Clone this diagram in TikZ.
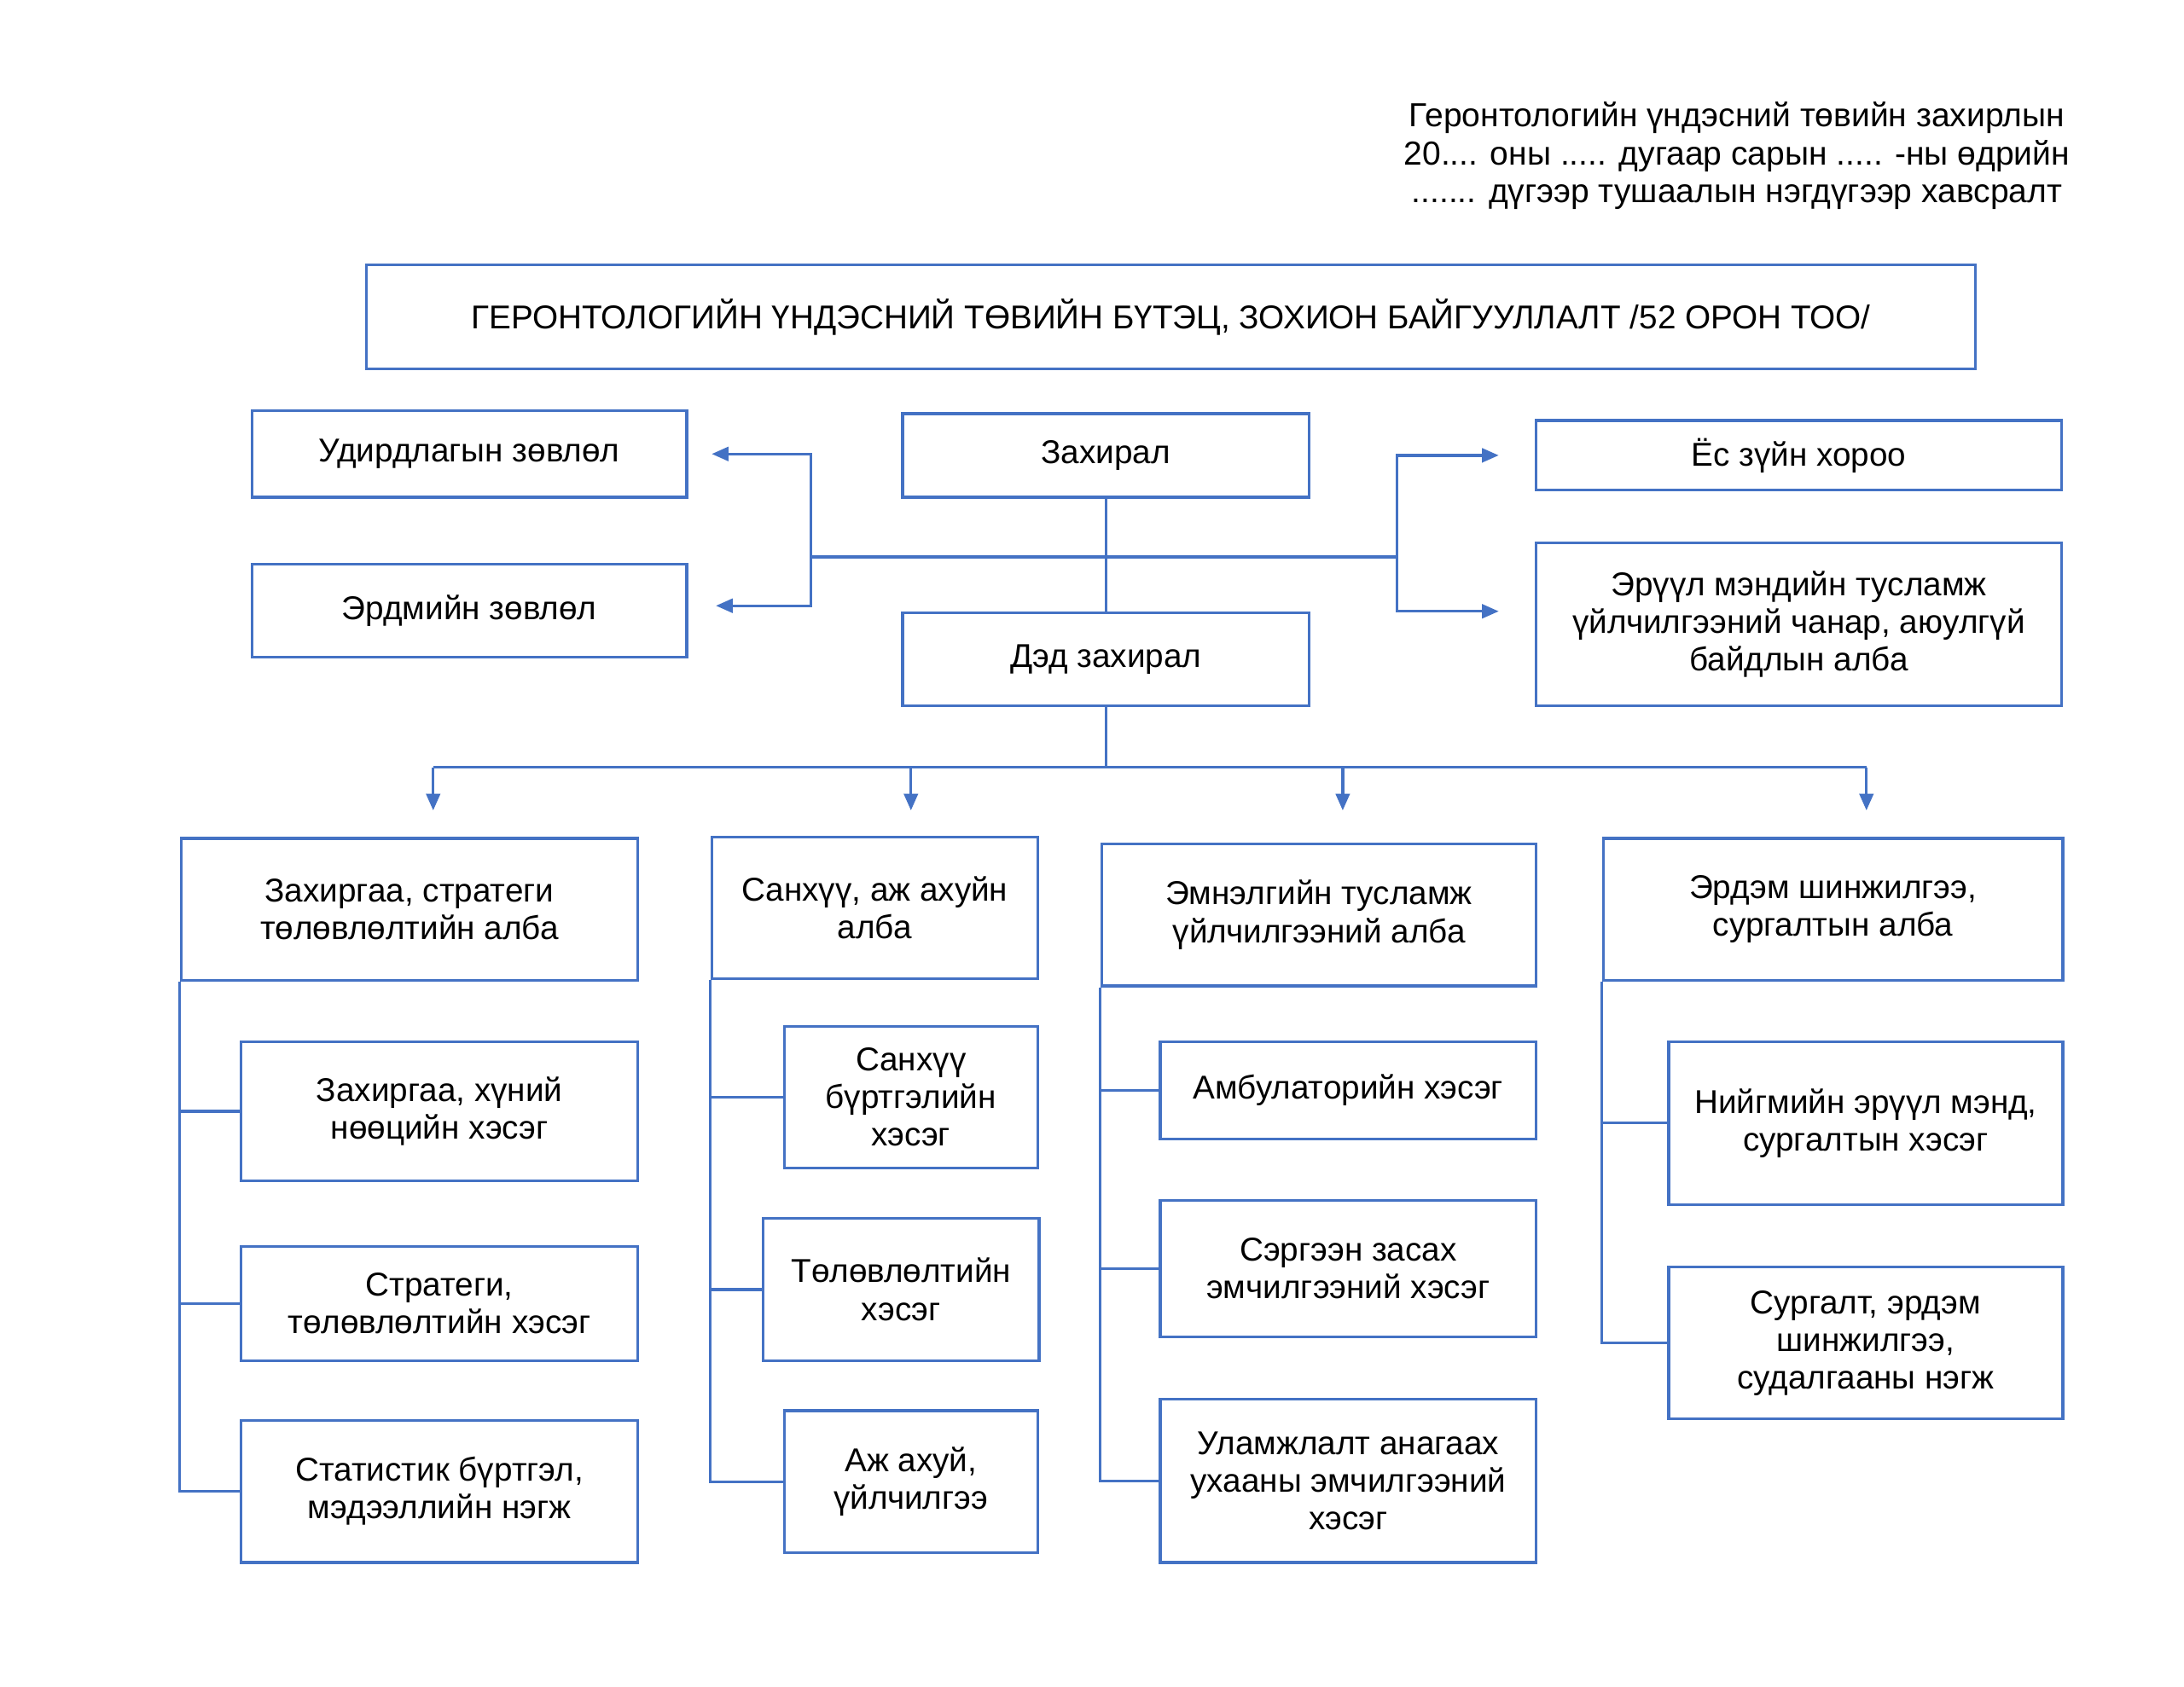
\documentclass[tikz,border=0pt]{standalone}
\usepackage{fontspec}
\setmainfont{Liberation Sans}
\usetikzlibrary{arrows.meta,calc}
\definecolor{lnblue}{RGB}{68,114,196}
\newcommand\bx[6]{\node[boxst, minimum width={(#4-#2)*0.5pt}, minimum height={(#5-#3)*0.5pt}] (#1) at ({(#2+#4)/2},{(#3+#5)/2}) {#6};}
\begin{document}
\begin{tikzpicture}[x=0.5pt,y=-0.5pt,
  boxst/.style={draw=lnblue, line width=1pt, inner sep=0pt, align=center, font=\fontsize{11.85pt}{13.5pt}\selectfont},
  conn/.style={draw=lnblue, line width=1pt},
  arr/.style={conn, -{Triangle[length=6pt,width=5pt]}}]
\useasboundingbox (0,0) rectangle (1568,1211.5);
\node[align=center, font=\fontsize{11.95pt}{13.6pt}\selectfont] (hdr) at (1247,112)
  {Геронтологийн үндэсний төвийн захирлын\\20.... оны ..... дугаар сарын ..... -ны өдрийн\\....... дүгээр тушаалын нэгдүгээр хавсралт};
\bx{title}{263}{190}{1418}{265}{ГЕРОНТОЛОГИЙН ҮНДЭСНИЙ ТӨВИЙН БҮТЭЦ, ЗОХИОН БАЙГУУЛЛАЛТ /52 ОРОН ТОО/}
\bx{ud}{181}{295}{493}{357}{Удирдлагын зөвлөл}
\bx{erd}{181}{405}{493}{472}{Эрдмийн зөвлөл}
\bx{zah}{648}{297}{940}{357}{Захирал}
\bx{ded}{648}{440}{940}{507}{Дэд захирал}
\bx{es}{1103}{302}{1480}{352}{Ёс зүйн хороо}
\bx{eruul}{1103}{390}{1480}{507}{Эрүүл мэндийн тусламж\\үйлчилгээний чанар, аюулгүй\\байдлын алба}
% column heads
\bx{h1}{130}{602}{458}{704}{Захиргаа, стратеги\\төлөвлөлтийн алба}
\bx{h2}{511}{601}{745}{703}{Санхүү, аж ахуйн\\алба}
\bx{h3}{791}{606}{1103}{708}{Эмнэлгийн тусламж\\үйлчилгээний алба}
\bx{h4}{1151}{602}{1481}{704}{Эрдэм шинжилгээ,\\сургалтын алба}
% column 1
\bx{s11}{173}{748}{458}{848}{Захиргаа, хүний\\нөөцийн хэсэг}
\bx{s12}{173}{895}{458}{977}{Стратеги,\\төлөвлөлтийн хэсэг}
\bx{s13}{173}{1020}{458}{1122}{Статистик бүртгэл,\\мэдээллийн нэгж}
% column 2
\bx{s21}{563}{737}{745}{839}{Санхүү\\бүртгэлийн\\хэсэг}
\bx{s22}{548}{875}{746}{977}{Төлөвлөлтийн\\хэсэг}
\bx{s23}{563}{1013}{745}{1115}{Аж ахуй,\\үйлчилгээ}
% column 3
\bx{s31}{833}{748}{1103}{818}{Амбулаторийн хэсэг}
\bx{s32}{833}{862}{1103}{960}{Сэргээн засах\\эмчилгээний хэсэг}
\bx{s33}{833}{1005}{1103}{1122}{Уламжлалт анагаах\\ухааны эмчилгээний\\хэсэг}
% column 4
\bx{s41}{1198}{748}{1481}{865}{Нийгмийн эрүүл мэнд,\\сургалтын хэсэг}
\bx{s42}{1198}{910}{1481}{1019}{Сургалт, эрдэм\\шинжилгээ,\\судалгааны нэгж}
% upper connectors
\coordinate (hl) at (582,400);
\coordinate (hr) at (1003,400);
\draw[conn] (zah.south) -- (ded.north);
\draw[conn] (hl) -- (hr);
\draw[arr] (hl) |- ($(ud.east)+(17,0)$);
\draw[arr] (hl) |- ($(erd.east)+(20,-3.5)$);
\draw[arr] (hr) |- ($(es.west)+(-26,0)$);
\draw[arr] (hr) |- ($(eruul.west)+(-26,-9.5)$);
% lower distribution
\coordinate (bl) at (311,551);
\coordinate (bm) at (794,551);
\coordinate (br) at (1340,551);
\coordinate (b2) at (654,551);
\coordinate (b3) at (964,551);
\coordinate (a1) at (311,582);
\coordinate (a2) at (654,582);
\coordinate (a3) at (964,582);
\coordinate (a4) at (1340,582);
\draw[conn] (ded.south) -- (bm);
\draw[conn] (bl) -- (br);
\draw[arr] (bl) -- (a1);
\draw[arr] (b2) -- (a2);
\draw[arr] (b3) -- (a3);
\draw[arr] (br) -- (a4);
% spines
\draw[conn] (h1.south west) |- (s13.west);
\draw[conn] (h1.south west |- s11.west) -- (s11.west);
\draw[conn] (h1.south west |- s12.west) -- (s12.west);
\draw[conn] (h2.south west) |- (s23.west);
\draw[conn] (h2.south west |- s21.west) -- (s21.west);
\draw[conn] (h2.south west |- s22.west) -- (s22.west);
\draw[conn] (h3.south west) |- (s33.west);
\draw[conn] (h3.south west |- s31.west) -- (s31.west);
\draw[conn] (h3.south west |- s32.west) -- (s32.west);
\draw[conn] (h4.south west) |- (s42.west);
\draw[conn] (h4.south west |- s41.west) -- (s41.west);
\end{tikzpicture}
\end{document}
